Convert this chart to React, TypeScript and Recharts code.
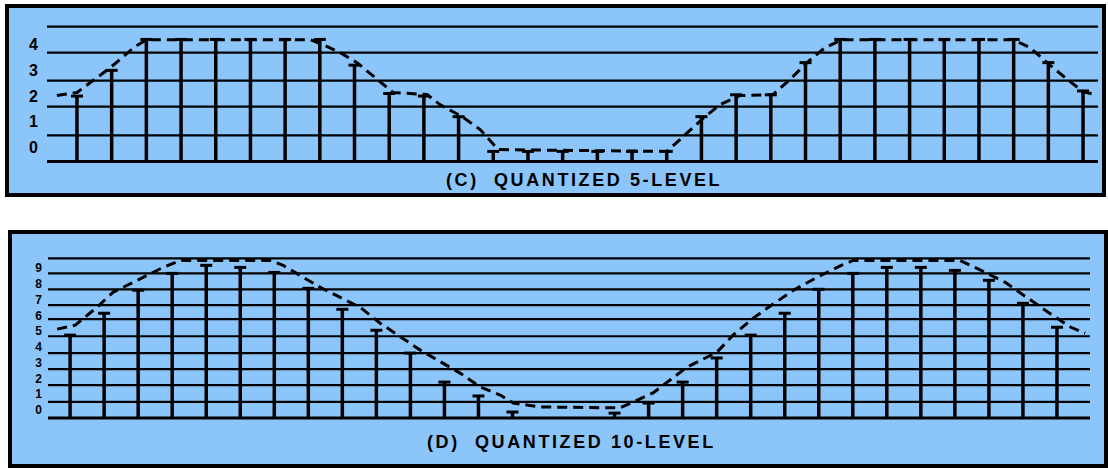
import { ComposedChart, Bar, Line, XAxis, YAxis, ReferenceLine } from 'recharts';

// (C) quantized 5-level: values in level units, x in sample index
const topTicks = [0, 1, 2, 3, 4];
const topGridLevels = [-0.54, 0.47, 1.59, 2.6, 3.69, 4.7];
const topStemLevels = [
  2.0, 3.0, 4.2, 4.2, 4.2, 4.2, 4.2, 4.2, 3.2, 2.1, 2.0, 1.2, -0.15, -0.15, -0.15,
  -0.15, -0.15, -0.15, 1.2, 2.05, 2.05, 3.3, 4.2, 4.2, 4.2, 4.2, 4.2, 4.2, 3.3, 2.2,
];
const topCurveK = [
  -0.58, 0, 0.89, 1.24, 1.67, 2.02, 6.72, 7.09, 7.58, 8.07, 8.59, 9.11, 10.09, 10.46, 11.1,
  11.62, 12.14, 17.0, 17.38, 18.1, 18.54, 19.11, 20.06, 20.55, 21.04, 21.56, 22.05, 26.98,
  27.47, 27.96, 28.48, 29.0, 29.35,
];
const topCurveV = [
  2.02, 2.14, 3.03, 3.42, 3.92, 4.19, 4.19, 4.0, 3.69, 3.3, 2.72, 2.14, 2.06, 1.67, 1.2,
  0.7, -0.08, -0.15, 0.31, 1.2, 1.67, 2.02, 2.06, 2.64, 3.3, 3.88, 4.19, 4.19,
  3.88, 3.3, 2.72, 2.17, 2.06,
];

// (D) quantized 10-level
const bottomTicks = [0, 1, 2, 3, 4, 5, 6, 7, 8, 9];
const bottomGridLevels = [-0.51, 0.51, 1.58, 2.59, 3.61, 4.68, 5.76, 6.65, 7.66, 8.67, 9.62];
const bottomStemLevels: (number | null)[] = [
  4.75, 6.14, 7.6, 8.67, 9.18, 9.05, 8.73, 7.72, 6.39, 5.06, 3.61, 1.77, 0.89, -0.13, null,
  null, -0.2, 0.44, 1.77, 3.3, 4.75, 6.14, 7.66, 8.67, 9.05, 9.05, 8.86, 8.23, 6.77, 5.25,
];
const bottomCurveK = [
  -0.38, 0.15, 0.79, 1.26, 1.85, 2.26, 2.73, 3.23, 5.88, 6.26, 6.85, 7.35, 8.52, 9.11, 10.29,
  11.46, 12.05, 12.64, 13.02, 13.81, 16.16, 17.13, 17.63, 18.13, 19.01, 19.48, 20.07, 20.48,
  21.25, 21.95, 22.66, 23.01, 26.15, 26.77, 27.48, 28.15, 28.74, 29.41, 29.83,
];
const bottomCurveV = [
  5.13, 5.38, 6.52, 7.47, 8.1, 8.54, 9.05, 9.49, 9.49, 9.18, 8.42, 7.78, 6.52, 5.51, 3.8,
  2.34, 1.46, 0.95, 0.44, 0.19, 0.13, 1.08, 1.9, 2.72, 3.67, 4.75, 5.82, 6.46,
  7.59, 8.42, 9.18, 9.49, 9.49, 8.86, 8.1, 7.09, 6.2, 5.25, 4.87,
];

const BLUE = '#8BC5F9';
const FONT = '"Liberation Sans", Arial, sans-serif';

function Stem(props: any) {
  const { x, y, width, height } = props;
  if (x == null || y == null || height == null) return null;
  const cx = x + width / 2;
  const top = Math.min(y, y + height);
  const bottom = Math.max(y, y + height);
  return (
    <g>
      <line x1={cx} y1={top} x2={cx} y2={bottom} stroke="#000" strokeWidth={3.5} />
      <line x1={cx - 6} y1={top} x2={cx + 6} y2={top} stroke="#000" strokeWidth={3} />
    </g>
  );
}

interface PanelProps {
  width: number;
  height: number;
  margin: { top: number; right: number; bottom: number; left: number };
  xDomain: [number, number];
  yDomain: [number, number];
  ticks: number[];
  tickFont: number;
  tickMargin: number;
  grid: number[];
  stems: (number | null)[];
  curveK: number[];
  curveV: number[];
}

function QuantChart(p: PanelProps) {
  const base = p.grid[0];
  const stems = p.stems
    .map((v, k) => ({ k, range: v == null ? null : [base, v] }))
    .filter((d) => d.range != null);
  const curve = p.curveK.map((k, i) => ({ k, v: p.curveV[i] }));
  return (
    <ComposedChart width={p.width} height={p.height} data={stems} margin={p.margin}>
      <XAxis dataKey="k" type="number" domain={p.xDomain} allowDataOverflow hide />
      <YAxis
        type="number"
        domain={p.yDomain}
        allowDataOverflow
        ticks={p.ticks}
        interval={0}
        width={30}
        tickSize={0}
        tickMargin={p.tickMargin}
        axisLine={false}
        tick={{ fill: '#000', fontSize: p.tickFont, fontWeight: 700, fontFamily: FONT }}
      />
      {p.grid.map((g, i) => (
        <ReferenceLine
          key={g}
          y={g}
          stroke="#000"
          strokeWidth={i === 0 ? 3 : 2.2}
          ifOverflow="extendDomain"
        />
      ))}
      <Bar dataKey="range" barSize={8} shape={<Stem />} isAnimationActive={false} />
      <Line
        data={curve}
        dataKey="v"
        type="linear"
        stroke="#000"
        strokeWidth={3}
        strokeDasharray="10 6"
        dot={false}
        isAnimationActive={false}
      />
    </ComposedChart>
  );
}

const caption: React.CSSProperties = {
  position: 'absolute',
  fontFamily: FONT,
  fontWeight: 700,
  fontSize: 18,
  lineHeight: '18px',
  letterSpacing: '2.6px',
  whiteSpace: 'pre',
  color: '#000',
};

export default function App() {
  return (
    <div style={{ position: 'absolute', left: 0, top: 0, width: 1108, height: 468, background: '#fff', overflow: 'hidden' }}>
      <div
        style={{
          position: 'absolute', left: 5, top: 4, width: 1101, height: 193,
          boxSizing: 'border-box', border: '4px solid #000', background: BLUE,
        }}
      >
        <QuantChart
          width={1093}
          height={185}
          margin={{ top: 16, right: 4, bottom: 30, left: 8 }}
          xDomain={[-0.865, 29.43]}
          yDomain={[-0.6, 4.8]}
          ticks={topTicks}
          tickFont={16}
          tickMargin={9}
          grid={topGridLevels}
          stems={topStemLevels}
          curveK={topCurveK}
          curveV={topCurveV}
        />
      </div>
      <div style={{ ...caption, left: 446, top: 171 }}>{'(C)  QUANTIZED 5-LEVEL'}</div>

      <div
        style={{
          position: 'absolute', left: 8, top: 230, width: 1100, height: 238,
          boxSizing: 'border-box', border: '4px solid #000', background: BLUE,
        }}
      >
        <QuantChart
          width={1092}
          height={230}
          margin={{ top: 20, right: 14, bottom: 43, left: 6 }}
          xDomain={[-0.65, 29.97]}
          yDomain={[-0.7, 9.9]}
          ticks={bottomTicks}
          tickFont={12}
          tickMargin={6}
          grid={bottomGridLevels}
          stems={bottomStemLevels}
          curveK={bottomCurveK}
          curveV={bottomCurveV}
        />
      </div>
      <div style={{ ...caption, left: 427, top: 433 }}>{'(D)  QUANTIZED 10-LEVEL'}</div>
    </div>
  );
}
